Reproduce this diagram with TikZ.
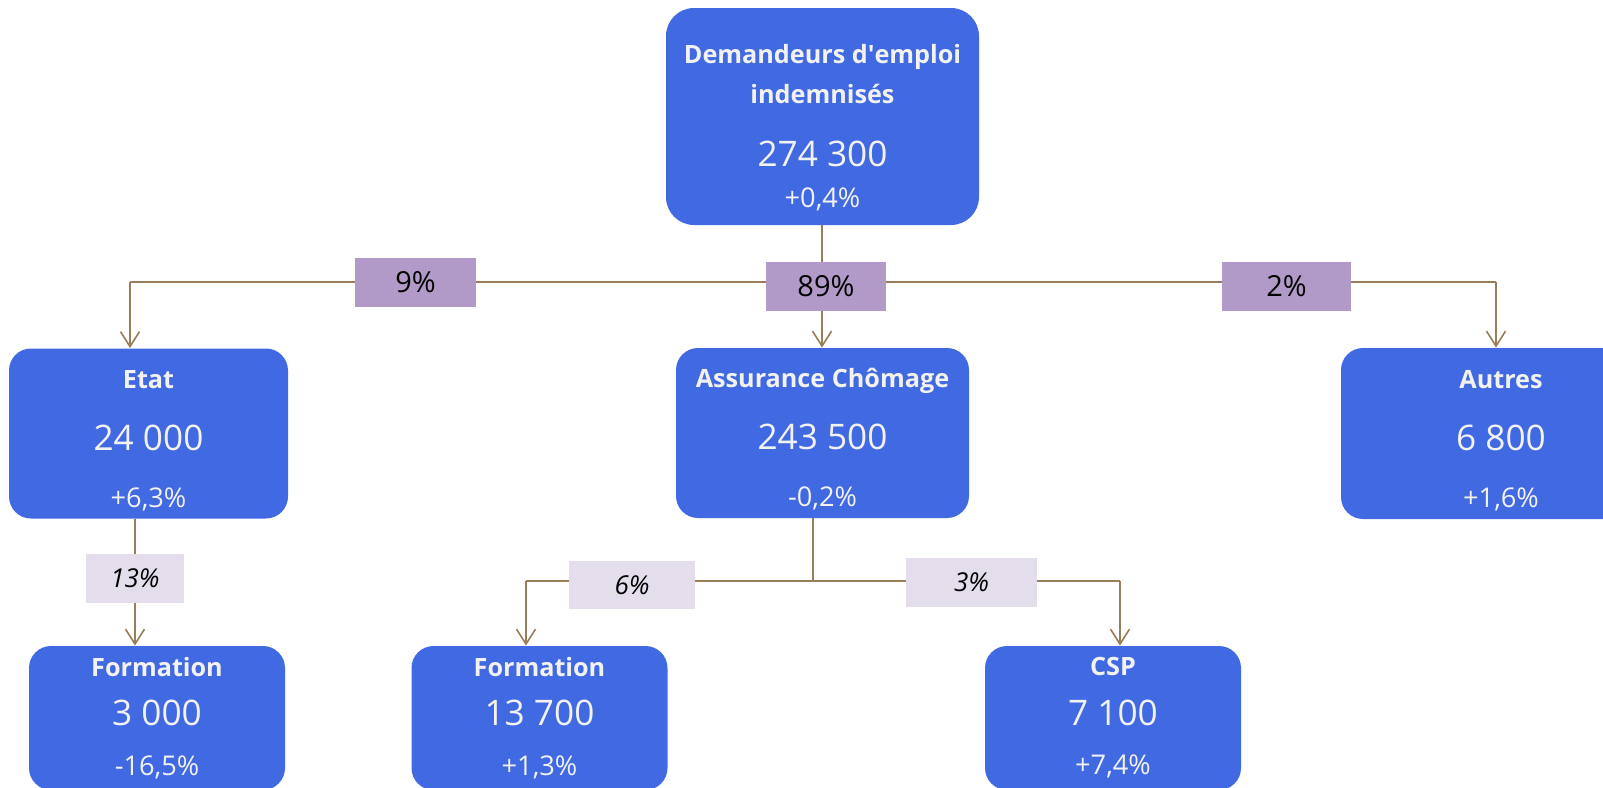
\documentclass[tikz,border=0pt]{standalone}
\usepackage{fontspec}
\setmainfont{Open Sans}
\usetikzlibrary{arrows.meta, backgrounds}
\definecolor{boxblue}{RGB}{65,105,225}
\definecolor{boxtext}{RGB}{242,242,242}
\definecolor{linkbrown}{RGB}{153,124,88}
\definecolor{sharedark}{RGB}{177,154,199}
\definecolor{sharelight}{RGB}{228,222,236}
\newcommand\boxtitle{\fontsize{12.6}{20}\selectfont\bfseries}
\newcommand\boxnum{\fontsize{17.6}{20}\selectfont}
\newcommand\boxpct{\fontsize{13.6}{20}\selectfont}
\tikzset{
  fundbox/.style = {
    rectangle, fill=boxblue, text=boxtext, rounded corners=11pt,
    align=center, font=\fontsize{12}{20}\selectfont, inner sep=0pt
  },
  share/.style = {
    rectangle, fill=sharedark, text=black, inner sep=0pt,
    font=\fontsize{14.5}{16}\selectfont
  },
  subshare/.style = {
    rectangle, fill=sharelight, text=black, inner sep=0pt,
    font=\fontsize{13}{16}\selectfont\itshape
  },
  link/.style = { draw=linkbrown, line width=0.8pt },
  flow/.style = { link, -{Straight Barb[length=7.5pt,width=9.5pt]} }
}

\begin{document}
\begin{tikzpicture}[x=0.5pt, y=-0.5pt]

    \useasboundingbox (0,0) rectangle (1603,788);

    % ------------------------------------------------------------- Top level
    \node [fundbox, minimum width=156.5pt, minimum height=108.5pt,
           rounded corners=14pt] (demandeurs) at (822.5,116.5)
      {\rule{0pt}{21pt}\boxtitle Demandeurs d\textquotesingle emploi\\
       \boxtitle indemnisés\\[11.3pt]
       \boxnum 274 300\\[0.7pt]
       \boxpct +0,4\%};

    % ----------------------------------------------------------- Financeurs
    \node [fundbox, minimum width=139.5pt, minimum height=85pt] (etat) at (148.5,433.5)
      {\rule{0pt}{16pt}\boxtitle Etat\\[11pt] \boxnum 24 000\\[8.6pt] \boxpct +6,3\%};
    \node [fundbox, minimum width=146.5pt, minimum height=85pt] (assurance) at (822.5,433)
      {\rule{0pt}{16pt}\boxtitle Assurance Chômage\\[11pt] \boxnum 243 500\\[8.6pt] \boxpct -0,2\%};
    \node [fundbox, minimum width=160pt, minimum height=85.5pt] (autres) at (1501,433.5)
      {\rule{0pt}{16pt}\boxtitle Autres\\[11pt] \boxnum 6 800\\[8.6pt] \boxpct +1,6\%};

    % -------------------------------------------------------------- Dispositifs
    \node [fundbox, minimum width=128pt, minimum height=72pt] (formation_etat) at (157,718)
      {\boxtitle Formation\\[4.8pt] \boxnum 3 000\\[4.7pt] \boxpct -16,5\%};
    \node [fundbox, minimum width=128pt, minimum height=72pt] (formation_ac) at (539.5,718)
      {\boxtitle Formation\\[4.8pt] \boxnum 13 700\\[4.7pt] \boxpct +1,3\%};
    \node [fundbox, minimum width=128pt, minimum height=72pt] (csp) at (1113,718)
      {\boxtitle CSP\\[4.8pt] \boxnum 7 100\\[4.7pt] \boxpct +7,4\%};

    % ------------------------------------------------------------ Branch points
    \coordinate (split)   at (822,282);
    \coordinate (split_l) at (130,282);
    \coordinate (split_r) at (1496,282);
    \coordinate (split_ac) at (813,581);
    \coordinate (split_f)  at (526,581);
    \coordinate (split_c)  at (1120,581);

    % ----------------------------------------- Connectors (behind the shapes)
    \begin{scope}[on background layer]

      % -------- first split
      \draw [link] (split |- demandeurs.south) -- (split);
      \draw [link] (split_l) -- (split_r);
      \draw [flow] (split_l) -- (split_l |- etat.north);
      \draw [flow] (split) -- (split |- assurance.north);
      \draw [flow] (split_r) -- (split_r |- autres.north);

      % -------- etat
      \draw [flow] (135,0 |- etat.south) -- (135,0 |- formation_etat.north);

      % -------- assurance chomage
      \draw [link] (split_ac |- assurance.south) -- (split_ac);
      \draw [link] (split_f) -- (split_c);
      \draw [flow] (split_f) -- (split_f |- formation_ac.north);
      \draw [flow] (split_c) -- (split_c |- csp.north);

    \end{scope}

    % ------------------------------------------------------------------ Shares
    \node [share, minimum width=60.5pt, minimum height=24.5pt] (share_etat) at (415.5,282.5) {9\%};
    \node [share, minimum width=60pt, minimum height=24.5pt] (share_ac) at (826,286.5) {89\%};
    \node [share, minimum width=64.5pt, minimum height=24.5pt] (share_autres) at (1286.5,286.5) {2\%};
    \node [subshare, minimum width=49pt, minimum height=24.5pt] (share_fe) at (135,578.5) {13\%};
    \node [subshare, minimum width=63pt, minimum height=24pt] (share_fa) at (632,585) {6\%};
    \node [subshare, minimum width=65.5pt, minimum height=24.5pt] (share_csp) at (971.5,582.5) {3\%};

\end{tikzpicture}
\end{document}
